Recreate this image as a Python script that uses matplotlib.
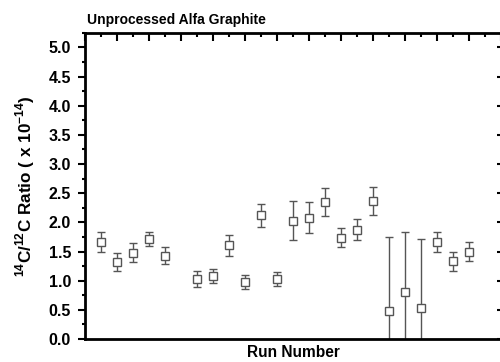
import numpy as np
from matplotlib import pyplot as plt
from matplotlib.ticker import MultipleLocator

plt.rcParams['font.family'] = ['Liberation Sans', 'DejaVu Sans']
plt.rcParams['mathtext.fontset'] = 'custom'
plt.rcParams['mathtext.bf'] = 'Liberation Sans:bold'
plt.rcParams['mathtext.rm'] = 'Liberation Sans:bold'

# run numbers (run 6 has no measurement)
runs = [1, 2, 3, 4, 5, 7, 8, 9, 10, 11, 12, 13, 14, 15, 16, 17, 18,
        19, 20, 21, 22, 23, 24]
ratio = [1.66, 1.32, 1.48, 1.71, 1.43, 1.03, 1.08, 1.61, 0.98, 2.12, 1.03,
         2.03, 2.08, 2.35, 1.74, 1.87, 2.37, 0.48, 0.81, 0.53, 1.66, 1.33, 1.50]
err = [0.17, 0.16, 0.16, 0.12, 0.15, 0.14, 0.12, 0.18, 0.12, 0.20, 0.12,
       0.33, 0.27, 0.24, 0.17, 0.18, 0.24, 1.27, 1.02, 1.19, 0.17, 0.16, 0.17]

fig = plt.figure(figsize=(5, 3.62), dpi=100)
ax = fig.add_axes([0.17, 0.0635, 0.832, 0.846])

ax.errorbar(runs, ratio, yerr=err, fmt='s', mfc='white', mec='#555555',
            ms=6, mew=1.0, ecolor='#555555', elinewidth=1.0, capsize=2.8,
            capthick=1.0)

ax.set_xlim(0, 26)
ax.set_ylim(0, 5.25)

# spines
for s in ['left', 'bottom', 'top']:
    ax.spines[s].set_linewidth(2)
ax.spines['right'].set_visible(False)

ax.yaxis.set_major_locator(MultipleLocator(0.5))
ax.yaxis.set_minor_locator(MultipleLocator(0.25))
ax.xaxis.set_major_locator(MultipleLocator(2))
ax.xaxis.set_minor_locator(MultipleLocator(1))

ax.tick_params(axis='y', which='major', left=True, right=True, direction='out',
               length=5, width=1.5, labelsize=11.5, pad=5)
ax.tick_params(axis='y', which='minor', left=True, right=False, direction='out',
               length=2.5, width=1.5)
# right ticks point inward
for t in ax.yaxis.get_major_ticks():
    t.tick2line.set_marker(0)
    t.tick2line.set_markersize(3)
ax.tick_params(axis='x', which='both', bottom=False, top=True, direction='in',
               labelbottom=False, width=1.5)
ax.tick_params(axis='x', which='major', length=6)
ax.tick_params(axis='x', which='minor', length=3)

for lab in ax.get_yticklabels():
    lab.set_fontweight('bold')

ax.set_xlabel('Run Number', fontsize=11.2, fontweight='bold', labelpad=4)
ax.set_ylabel(r'$^{14}$C/$^{12}$C Ratio ( x 10$^{-14}$)', fontsize=12.3,
              fontweight='bold', labelpad=8)
ax.set_title('Unprocessed Alfa Graphite', fontsize=10, fontweight='bold',
             loc='left', pad=6, x=0.005)

fig.savefig('out.png', dpi=100)
